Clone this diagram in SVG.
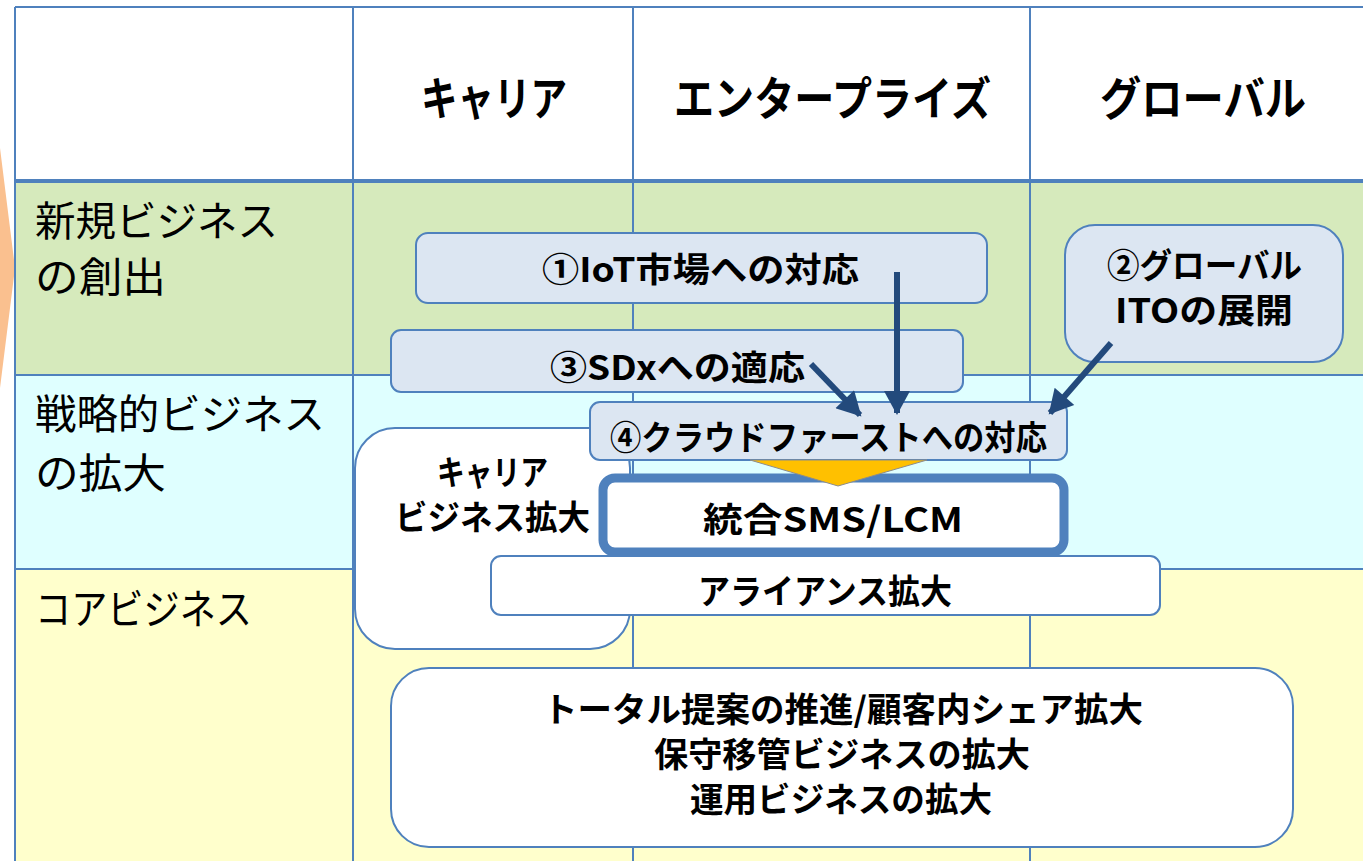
<svg xmlns="http://www.w3.org/2000/svg" width="1363" height="861" viewBox="0 0 1363 861">
<style>
text{font-family:"Noto Sans CJK JP","Noto Sans",sans-serif;fill:#000}
.hdr{font-size:46px;font-weight:700}
.lbl{font-size:41px;font-weight:400}
.bt{font-size:34px;font-weight:700}
.grid{stroke:#4F81BD;stroke-width:2;fill:none}
.blue{fill:#DCE6F2;stroke:#4F81BD;stroke-width:2}
.white{fill:#FFFFFF;stroke:#4F81BD;stroke-width:2}
.arr{stroke:#234A7C;stroke-width:6;fill:none}
</style>
<defs>
<marker id="ah" markerUnits="userSpaceOnUse" markerWidth="26" markerHeight="26" viewBox="0 0 24 26" refX="22" refY="13" orient="auto">
<path d="M0,0 L24,13 L0,26 Z" fill="#234A7C"/>
</marker>
</defs>
<rect width="1363" height="861" fill="#FFFFFF"/>
<g id="background">
<polygon points="0,148 15,268 0,388" fill="#FAC08F"/>
<rect x="15" y="7" width="1348" height="173" fill="#FFFFFF"/>
<rect x="15" y="180" width="1348" height="195" fill="#D6EABC"/>
<rect x="15" y="375" width="1348" height="194" fill="#DFFFFF"/>
<rect x="15" y="569" width="1348" height="292" fill="#FFFFCC"/>
<line class="grid" x1="15" y1="7" x2="1363" y2="7"/>
<line class="grid" x1="15" y1="375" x2="1363" y2="375"/>
<line class="grid" x1="15" y1="569" x2="1363" y2="569"/>
<line class="grid" x1="15" y1="7" x2="15" y2="861"/>
<line class="grid" x1="353" y1="7" x2="353" y2="861"/>
<line class="grid" x1="633" y1="7" x2="633" y2="861"/>
<line class="grid" x1="1030" y1="7" x2="1030" y2="861"/>
<line x1="15" y1="181" x2="1363" y2="181" stroke="#4F81BD" stroke-width="4"/>
</g>
<g id="headers">
<text class="hdr" x="421" y="115" textLength="146" lengthAdjust="spacingAndGlyphs">キャリア</text>
<text class="hdr" x="674" y="115" textLength="317" lengthAdjust="spacingAndGlyphs">エンタープライズ</text>
<text class="hdr" x="1100" y="115" textLength="206" lengthAdjust="spacingAndGlyphs">グローバル</text>
</g>
<g id="row-labels">
<text class="lbl" x="35" y="236" textLength="243" lengthAdjust="spacingAndGlyphs">新規ビジネス</text>
<text class="lbl" x="35" y="292" textLength="131" lengthAdjust="spacingAndGlyphs">の創出</text>
<text class="lbl" x="35" y="429" textLength="290" lengthAdjust="spacingAndGlyphs">戦略的ビジネス</text>
<text class="lbl" x="35" y="488" textLength="131" lengthAdjust="spacingAndGlyphs">の拡大</text>
<text class="lbl" x="35" y="624" textLength="217" lengthAdjust="spacingAndGlyphs">コアビジネス</text>
</g>
<g id="node-iot">
<rect class="blue" x="416" y="233" width="571" height="70" rx="12"/>
<text class="bt" x="542" y="282" textLength="317" lengthAdjust="spacingAndGlyphs">①IoT市場への対応</text>
</g>
<g id="node-global">
<rect class="blue" x="1065" y="225" width="278" height="137" rx="30"/>
<text class="bt" x="1107" y="278" textLength="195" lengthAdjust="spacingAndGlyphs">②グローバル</text>
<text class="bt" x="1115" y="323" textLength="178" lengthAdjust="spacingAndGlyphs">ITOの展開</text>
</g>
<g id="node-sdx">
<rect class="blue" x="391" y="330" width="572" height="62" rx="10"/>
<text class="bt" x="550" y="380" textLength="255" lengthAdjust="spacingAndGlyphs">③SDxへの適応</text>
</g>
<g id="node-carrier">
<rect class="white" x="355" y="428" width="275" height="221" rx="40"/>
<text class="bt" x="437" y="485" textLength="111" lengthAdjust="spacingAndGlyphs">キャリア</text>
<text class="bt" x="395" y="530" textLength="195" lengthAdjust="spacingAndGlyphs">ビジネス拡大</text>
</g>
<g id="node-cloud">
<rect class="blue" x="590" y="402" width="477" height="58" rx="10"/>
<text class="bt" x="610" y="450" textLength="437" lengthAdjust="spacingAndGlyphs">④クラウドファーストへの対応</text>
</g>
<g id="node-sms">
<rect x="603" y="478" width="461" height="74" rx="12" fill="#FFFFFF" stroke="#4F81BD" stroke-width="9"/>
<text class="bt" x="703" y="532" textLength="260" lengthAdjust="spacingAndGlyphs">統合SMS/LCM</text>
</g>
<g id="node-funnel">
<polygon points="750,460 927,460 838,486" fill="#FFC000" stroke="#8C8C8C" stroke-width="1"/>
</g>
<g id="node-alliance">
<rect class="white" x="491" y="556" width="669" height="59" rx="10"/>
<text class="bt" x="698" y="604" textLength="254" lengthAdjust="spacingAndGlyphs">アライアンス拡大</text>
</g>
<g id="node-core">
<rect class="white" x="391" y="668" width="902" height="179" rx="38"/>
<text class="bt" x="543" y="722" textLength="600" lengthAdjust="spacingAndGlyphs">トータル提案の推進/顧客内シェア拡大</text>
<text class="bt" x="654" y="767" textLength="376" lengthAdjust="spacingAndGlyphs">保守移管ビジネスの拡大</text>
<text class="bt" x="690" y="812" textLength="302" lengthAdjust="spacingAndGlyphs">運用ビジネスの拡大</text>
</g>
<g id="connectors">
<line class="arr" x1="897" y1="272" x2="897" y2="413" marker-end="url(#ah)"/>
<line class="arr" x1="811" y1="364" x2="860" y2="415" marker-end="url(#ah)"/>
<line class="arr" x1="1111" y1="343" x2="1050" y2="413" marker-end="url(#ah)"/>
</g>
</svg>
